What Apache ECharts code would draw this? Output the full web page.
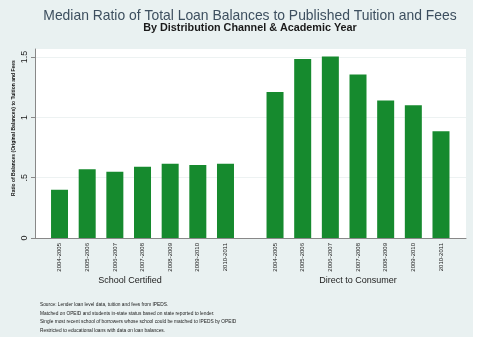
<!DOCTYPE html>
<html>
<head>
<meta charset="utf-8">
<script src="https://cdn.jsdelivr.net/npm/echarts@6/dist/echarts.min.js"></script>
<style>
  html, body { margin: 0; padding: 0; background: #fff; }
  #main { width: 477px; height: 346px; }
</style>
</head>
<body>
<div id="main"></div>
<script>
var years = ['2004-2005', '2005-2006', '2006-2007', '2007-2008', '2008-2009', '2009-2010', '2010-2011'];
var schoolCertified = [0.40, 0.57, 0.55, 0.59, 0.615, 0.605, 0.615];
var directToConsumer = [1.21, 1.485, 1.505, 1.355, 1.14, 1.10, 0.885];
var yTicks = [0, 0.5, 1, 1.5];
var notes = [
  'Source: Lender loan level data, tuition and fees from IPEDS.',
  'Matched on OPEID and students in-state status based on state reported to lender.',
  'Single most recent school of borrowers whose school could be matched to IPEDS by OPEID',
  'Restricted to educational loans with data on loan balances.'
];

var font = 'Liberation Sans, Arial, sans-serif';
var green = '#168a2e';
var yMax = 1.567;
var band = 27.66;

var $main = document.getElementById('main');
var chart = echarts.init($main);

function hiddenY(idx) {
  return { type: 'value', gridIndex: idx, min: 0, max: yMax, show: false };
}

function groupAxis(idx) {
  return {
    type: 'category', gridIndex: idx, data: years,
    axisLine: { show: false },
    axisTick: { show: false },
    axisLabel: { rotate: 90, fontSize: 6, color: '#222', fontFamily: font, margin: 5, interval: 0 }
  };
}

var option = {
  backgroundColor: '#e9f1f1',
  animation: false,
  grid: [
    { left: 35, top: 49, width: 431, height: 189, show: true, backgroundColor: '#fff', borderWidth: 0 },
    { left: 45.7, top: 49, width: band * 7, height: 189 },
    { left: 261.2, top: 49, width: band * 7, height: 189 }
  ],
  xAxis: [
    {
      type: 'value', gridIndex: 0, min: 0, max: 1,
      axisLine: { show: true, lineStyle: { color: '#888', width: 1 } },
      axisTick: { show: false }, axisLabel: { show: false }, splitLine: { show: false }
    },
    groupAxis(1),
    groupAxis(2)
  ],
  yAxis: [
    {
      type: 'value', gridIndex: 0, min: 0, max: yMax,
      axisLine: { show: true, lineStyle: { color: '#888', width: 1 } },
      axisTick: { show: true, length: 4, customValues: yTicks, lineStyle: { color: '#888' } },
      axisLabel: {
        customValues: yTicks, rotate: 90, fontSize: 9, color: '#222', fontFamily: font, margin: 6,
        formatter: function (v) { return v === 0 ? '0' : String(v).replace(/^0/, ''); }
      },
      splitLine: { show: true, lineStyle: { color: '#edf2f2', width: 1 } }
    },
    hiddenY(1),
    hiddenY(2)
  ],
  series: [
    { type: 'bar', xAxisIndex: 1, yAxisIndex: 1, data: schoolCertified, barWidth: 17, itemStyle: { color: green } },
    { type: 'bar', xAxisIndex: 2, yAxisIndex: 2, data: directToConsumer, barWidth: 17, itemStyle: { color: green } }
  ],
  graphic: [
    // white margin at the right and bottom edge
    { type: 'rect', left: 473, top: 0, shape: { width: 4, height: 346 }, style: { fill: '#fff' }, silent: true },
    { type: 'rect', left: 0, top: 337, shape: { width: 477, height: 9 }, style: { fill: '#fff' }, silent: true },
    {
      type: 'text', x: 250, y: 16,
      style: { text: 'Median Ratio of Total Loan Balances to Published Tuition and Fees', fill: '#3d4f5f', font: '13.9px ' + font, textAlign: 'center', textVerticalAlign: 'middle' }
    },
    {
      type: 'text', x: 250, y: 28,
      style: { text: 'By Distribution Channel & Academic Year', fill: '#1a1a1a', font: 'bold 10.8px ' + font, textAlign: 'center', textVerticalAlign: 'middle' }
    },
    {
      type: 'text', x: 14, y: 128, rotation: Math.PI / 2,
      style: { text: 'Ratio of Balances (Original Balances) to Tuition and Fees', fill: '#111', font: 'bold 5px ' + font, textAlign: 'center', textVerticalAlign: 'middle' }
    },
    {
      type: 'text', x: 130, y: 281,
      style: { text: 'School Certified', fill: '#222', font: '9px ' + font, textAlign: 'center', textVerticalAlign: 'middle' }
    },
    {
      type: 'text', x: 358, y: 281,
      style: { text: 'Direct to Consumer', fill: '#222', font: '9px ' + font, textAlign: 'center', textVerticalAlign: 'middle' }
    },
    {
      type: 'text', x: 40, y: 300,
      style: { text: notes.join('\n'), fill: '#1a1a1a', font: '4.8px ' + font, lineHeight: 8.8, textAlign: 'left', textVerticalAlign: 'top' }
    }
  ]
};

chart.setOption(option);
</script>
</body>
</html>
